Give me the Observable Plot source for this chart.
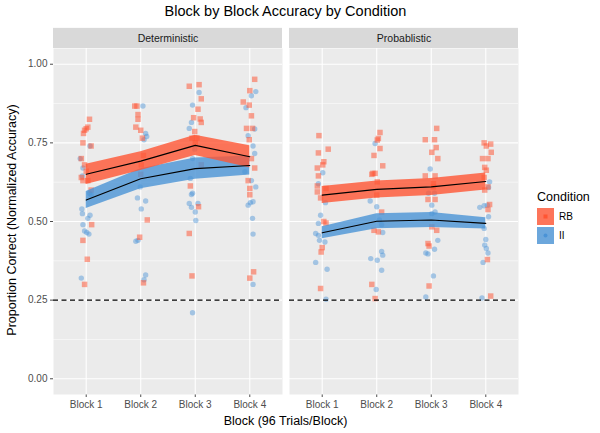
<!DOCTYPE html>
<html><head><meta charset="utf-8">
<script src="https://cdn.jsdelivr.net/npm/d3@7"></script>
<script src="https://cdn.jsdelivr.net/npm/@observablehq/plot@0.6"></script>
<style>
body{margin:0;background:#fff;font-family:"Liberation Sans",Arial,sans-serif;}
#wrap{position:relative;width:600px;height:433px;overflow:hidden;}
#wrap svg{position:absolute;left:0;top:0;}
.lbl{position:absolute;color:#000;white-space:nowrap;}
</style></head><body><div id="wrap"></div>
<script>
const panels = ["Deterministic", "Probablistic"];
const conditions = ["RB", "II"];
const blocks = ["Block 1", "Block 2", "Block 3", "Block 4"];
const yMajor = [0, 0.25, 0.5, 0.75, 1];
const yMinor = [0.125, 0.375, 0.625, 0.875];
const chance = 0.25;

// means and ribbon half-widths per block
const detRBMean = [0.650, 0.692, 0.742, 0.706];
const detRBHalf = [0.032, 0.030, 0.032, 0.035];
const detIIMean = [0.568, 0.636, 0.668, 0.678];
const detIIHalf = [0.027, 0.032, 0.034, 0.030];
const probRBMean = [0.584, 0.602, 0.610, 0.627];
const probRBHalf = [0.027, 0.027, 0.027, 0.027];
const probIIMean = [0.464, 0.501, 0.505, 0.494];
const probIIHalf = [0.019, 0.024, 0.024, 0.018];

// individual participants: [jitter (block units), proportion correct]
const detRB = [
 [[0.06,0.825],[-0.03,0.79],[0,0.795],[0.03,0.80],[-0.05,0.78],[-0.06,0.75],[0.09,0.74],[-0.09,0.70],[-0.03,0.68],[0,0.66],[-0.09,0.64],[-0.06,0.63],[0.03,0.63],[0.09,0.60],[0.10,0.49],[-0.06,0.44],[0.02,0.38],[-0.03,0.30]],
 [[-0.11,0.867],[-0.07,0.867],[-0.05,0.84],[-0.05,0.825],[-0.09,0.80],[0,0.79],[0.03,0.765],[0.05,0.71],[0.01,0.68],[0,0.65],[0.12,0.505],[-0.02,0.45],[0.05,0.305]],
 [[-0.11,0.93],[0.07,0.935],[0.11,0.89],[0.05,0.857],[-0.03,0.83],[0.09,0.826],[0.11,0.815],[-0.01,0.786],[0.03,0.765],[-0.06,0.765],[0,0.75],[0.11,0.68],[-0.09,0.613],[0.06,0.547],[-0.11,0.462],[-0.06,0.327]],
 [[0.09,0.952],[0,0.916],[-0.12,0.88],[-0.01,0.87],[0.03,0.836],[-0.06,0.796],[0.05,0.796],[-0.01,0.76],[0.03,0.70],[0.09,0.67],[-0.03,0.63],[0,0.605],[0,0.585],[0.07,0.34],[0,0.32]]
];
const detII = [
 [[0.07,0.74],[-0.11,0.70],[-0.06,0.67],[-0.07,0.645],[0.06,0.59],[0.09,0.585],[-0.08,0.54],[-0.07,0.525],[0.07,0.52],[0.03,0.51],[-0.06,0.49],[-0.03,0.47],[0.01,0.465],[0.05,0.46],[-0.09,0.32]],
 [[0.04,0.867],[0.09,0.78],[0.11,0.77],[0.06,0.76],[-0.01,0.61],[-0.06,0.575],[0.09,0.565],[0.01,0.54],[-0.09,0.437],[-0.05,0.44],[0.09,0.33],[0.06,0.315]],
 [[0.07,0.91],[-0.05,0.87],[-0.07,0.815],[-0.11,0.796],[-0.01,0.73],[-0.05,0.70],[-0.09,0.637],[-0.05,0.59],[-0.07,0.586],[-0.11,0.557],[-0.07,0.545],[0.05,0.557],[0,0.53],[0.01,0.503],[-0.05,0.21]],
 [[0.11,0.913],[0.03,0.90],[-0.07,0.862],[0.09,0.794],[-0.03,0.773],[0.06,0.74],[0.09,0.716],[-0.09,0.658],[0.03,0.63],[0.11,0.61],[-0.03,0.552],[0.01,0.56],[0.06,0.563],[0.05,0.51],[0.06,0.46],[0.06,0.30]]
];
const probRB = [
 [[-0.06,0.773],[0.11,0.73],[-0.07,0.718],[0.03,0.69],[0.01,0.68],[-0.09,0.67],[-0.07,0.645],[-0.09,0.613],[0.07,0.605],[-0.09,0.594],[-0.03,0.575],[0.03,0.50],[0.07,0.495],[0,0.417],[-0.02,0.403],[-0.03,0.287]],
 [[0.06,0.783],[0.03,0.764],[0.01,0.759],[0.06,0.732],[-0.05,0.71],[0.11,0.677],[-0.07,0.653],[-0.03,0.653],[-0.09,0.65],[0.01,0.626],[0,0.584],[0.09,0.53],[-0.05,0.472],[0.03,0.467],[-0.09,0.30],[-0.03,0.255]],
 [[0.10,0.796],[-0.11,0.76],[0.06,0.76],[0.09,0.735],[0.01,0.72],[0.12,0.70],[-0.11,0.645],[0.07,0.645],[0.04,0.62],[0.04,0.61],[-0.06,0.57],[0.07,0.57],[0.01,0.483],[0.10,0.472],[-0.06,0.43],[-0.04,0.422],[-0.04,0.295]],
 [[-0.03,0.75],[0.09,0.746],[0.01,0.74],[0.10,0.72],[-0.06,0.70],[0.04,0.70],[-0.02,0.672],[0.01,0.663],[-0.03,0.64],[0.04,0.61],[-0.02,0.60],[0.07,0.554],[0.04,0.538],[0.03,0.379],[0.09,0.263]]
];
const probII = [
 [[0.01,0.655],[-0.07,0.62],[0.06,0.56],[-0.03,0.52],[-0.07,0.494],[-0.12,0.462],[-0.07,0.456],[-0.05,0.44],[0.05,0.435],[-0.12,0.37],[0.09,0.348],[0.07,0.253]],
 [[-0.03,0.748],[-0.12,0.565],[0,0.547],[0.05,0.505],[0.09,0.49],[0.11,0.465],[0.09,0.405],[0.11,0.393],[-0.11,0.382],[0.01,0.377],[0.09,0.345],[-0.01,0.284]],
 [[-0.02,0.667],[-0.05,0.59],[0.06,0.59],[0.01,0.552],[0.01,0.525],[0.07,0.53],[0.12,0.44],[-0.10,0.40],[-0.06,0.397],[0.06,0.412],[0.04,0.327],[-0.10,0.26]],
 [[0.07,0.626],[0.05,0.608],[-0.11,0.545],[-0.03,0.55],[0.03,0.552],[0.05,0.515],[-0.03,0.478],[0,0.443],[-0.02,0.425],[0.01,0.414],[0.04,0.40],[-0.05,0.37],[-0.07,0.257]]
];

const RB_COLOR = "#FF5533";
const II_COLOR = "#4A93D6";
const yDomain = [-0.05, 1.05];
const xDomain = [0.4, 4.6];
const stripSpan = 0.064;

const pointSrc = {Deterministic: {RB: detRB, II: detII}, Probablistic: {RB: probRB, II: probII}};
const meanSrc = {Deterministic: {RB: [detRBMean, detRBHalf], II: [detIIMean, detIIHalf]},
                 Probablistic: {RB: [probRBMean, probRBHalf], II: [probIIMean, probIIHalf]}};

const points = [];
const summary = [];
for (const p of panels) for (const c of conditions) {
  pointSrc[p][c].forEach((arr, bi) => arr.forEach(([j, v]) => points.push({panel: p, cond: c, x: bi + 1 + j, y: v})));
  const [m, h] = meanSrc[p][c];
  blocks.forEach((b, bi) => summary.push({panel: p, cond: c, x: bi + 1, mean: m[bi], lo: m[bi] - h[bi], hi: m[bi] + h[bi]}));
}
const ptsRB = points.filter(d => d.cond === "RB");
const ptsII = points.filter(d => d.cond === "II");
const sumRB = summary.filter(d => d.cond === "RB");
const sumII = summary.filter(d => d.cond === "II");

const chart = Plot.plot({
  width: 600, height: 433,
  marginTop: 48, marginBottom: 39, marginLeft: 53, marginRight: 82,
  style: {fontFamily: '"Liberation Sans", Arial, sans-serif', fontSize: "10px", color: "#4D4D4D", background: "transparent", overflow: "visible"},
  fx: {domain: panels, paddingInner: 0.03, paddingOuter: 0, axis: null, label: null},
  x: {domain: xDomain, ticks: [1, 2, 3, 4], tickFormat: d => blocks[d - 1], tickSize: 3, tickPadding: 3, label: null},
  y: {domain: yDomain, ticks: yMajor, tickFormat: d3.format(".2f"), tickSize: 3, tickPadding: 3, label: null},
  marks: [
    Plot.frame({fill: "#EBEBEB", stroke: "none"}),
    Plot.rect(panels, {fx: d => d, x1: xDomain[0], x2: xDomain[1], y1: yDomain[1], y2: yDomain[1] + stripSpan, fill: "#D9D9D9"}),
    Plot.text(panels, {fx: d => d, x: (xDomain[0] + xDomain[1]) / 2, y: yDomain[1] + stripSpan / 2, text: d => d, fill: "#1A1A1A", fontSize: 10.5}),
    Plot.ruleY(yMinor, {stroke: "white", strokeWidth: 0.55}),
    Plot.ruleY(yMajor, {stroke: "white", strokeWidth: 1.1}),
    Plot.ruleX([1, 2, 3, 4], {stroke: "white", strokeWidth: 1.1}),
    Plot.dot(ptsII, {fx: "panel", x: "x", y: "y", r: 2.7, fill: II_COLOR, fillOpacity: 0.45, stroke: "none"}),
    Plot.dot(ptsRB, {fx: "panel", x: "x", y: "y", r: 3.1, symbol: "square", fill: RB_COLOR, fillOpacity: 0.52, stroke: "none"}),
    Plot.areaY(sumII, {fx: "panel", x: "x", y1: "lo", y2: "hi", fill: II_COLOR, fillOpacity: 0.8}),
    Plot.areaY(sumRB, {fx: "panel", x: "x", y1: "lo", y2: "hi", fill: RB_COLOR, fillOpacity: 0.8}),
    Plot.line(summary, {fx: "panel", x: "x", y: "mean", z: "cond", stroke: "black", strokeWidth: 1.1}),
    Plot.ruleY([chance], {stroke: "black", strokeWidth: 1.3, strokeDasharray: "5,3.5"})
  ]
});

const wrap = document.getElementById("wrap");
wrap.appendChild(chart);
function addLabel(html, css) {
  const d = document.createElement("div");
  d.className = "lbl"; d.innerHTML = html; d.style.cssText += css; wrap.appendChild(d); return d;
}
addLabel("Block by Block Accuracy by Condition", "left:53px;width:465px;top:3px;text-align:center;font-size:14.5px;");
addLabel("Block (96 Trials/Block)", "left:53px;width:465px;top:414px;text-align:center;font-size:12.5px;");
addLabel("Proportion Correct (Normalized Accuracy)", "left:-138px;width:300px;top:213px;text-align:center;font-size:12.5px;transform:rotate(-90deg);");

const legend = addLabel("", "left:537px;top:190px;");
legend.innerHTML = `<div style="font-size:12.5px;margin-bottom:4px;">Condition</div>` +
  conditions.map(c => {
    const col = c === "RB" ? RB_COLOR : II_COLOR;
    const pt = c === "RB"
      ? `<rect x="6.5" y="6.5" width="4" height="4" fill="${col}" />`
      : `<circle cx="8.5" cy="8.5" r="2" fill="${col}" />`;
    return `<div style="display:flex;align-items:center;height:17.5px;margin-bottom:1px;">
      <svg width="17" height="17" style="position:static"><rect width="17" height="17" fill="#F2F2F2"/><rect width="17" height="17" fill="${col}" fill-opacity="0.8"/>${pt}</svg>
      <span style="font-size:10px;margin-left:5px;color:#000;">${c}</span></div>`;
  }).join("");
</script></body></html>
